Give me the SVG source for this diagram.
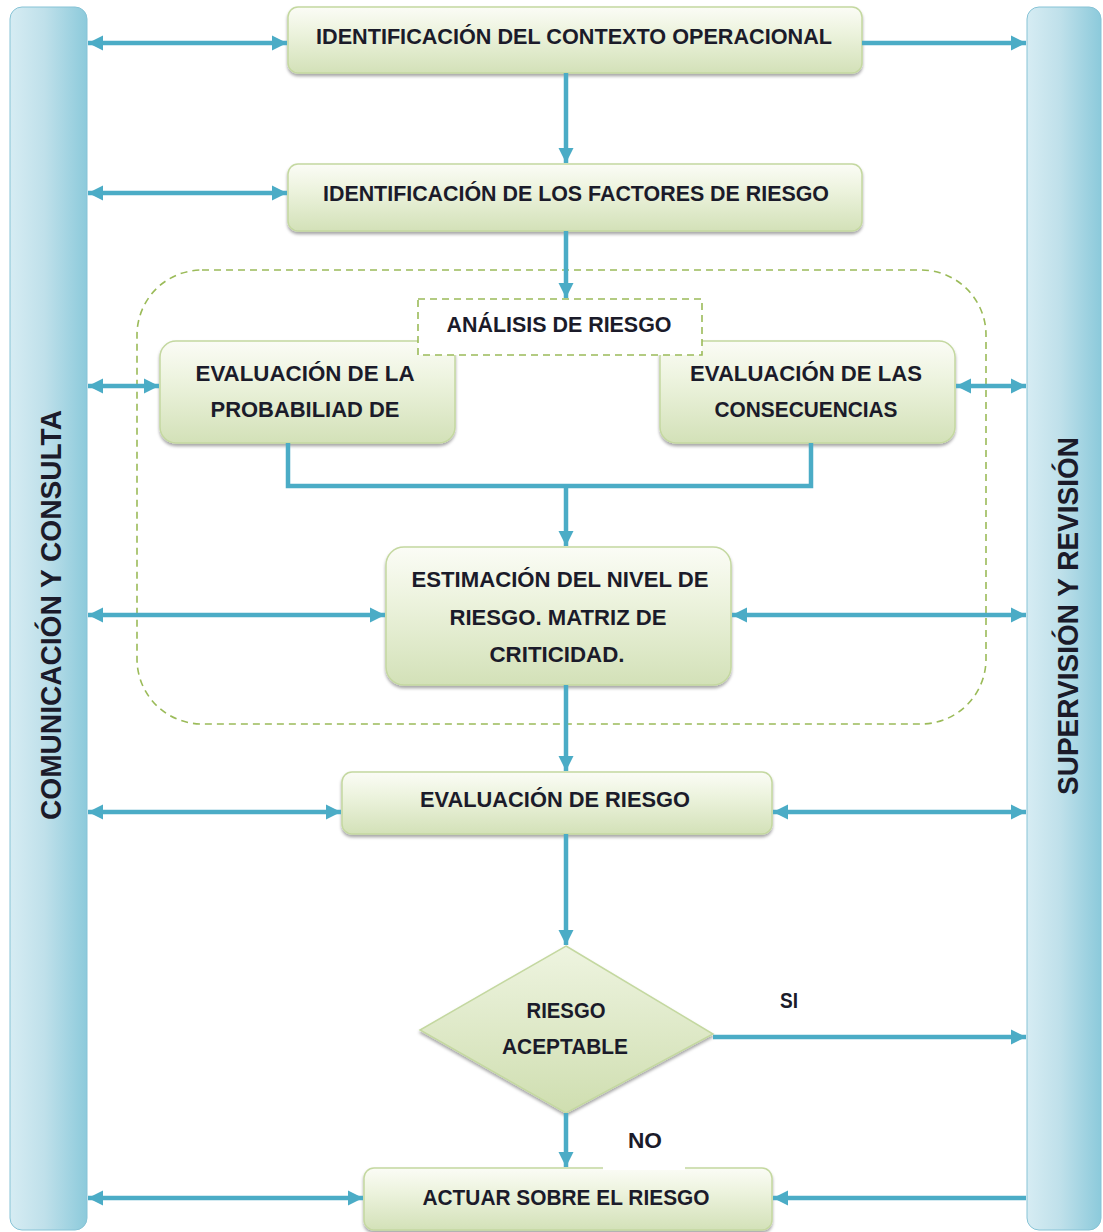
<svg xmlns="http://www.w3.org/2000/svg" width="1103" height="1232" viewBox="0 0 1103 1232">
<defs>
<linearGradient id="gBox" x1="0" y1="0" x2="0" y2="1">
<stop offset="0" stop-color="#fbfcf6"/>
<stop offset="0.35" stop-color="#eef4e0"/>
<stop offset="1" stop-color="#d3e1b8"/>
</linearGradient>
<linearGradient id="gDia" x1="0" y1="0" x2="0" y2="1">
<stop offset="0" stop-color="#eef4e0"/>
<stop offset="1" stop-color="#cfdeb0"/>
</linearGradient>
<linearGradient id="gBar" x1="0" y1="0" x2="1" y2="0">
<stop offset="0" stop-color="#d6ecf3"/>
<stop offset="0.45" stop-color="#bfe0ea"/>
<stop offset="1" stop-color="#8ccadb"/>
</linearGradient>
<filter id="sh" x="-5%" y="-10%" width="110%" height="130%">
<feDropShadow dx="0" dy="2.5" stdDeviation="1.8" flood-color="#000" flood-opacity="0.35"/>
</filter>
<marker id="ah" markerUnits="userSpaceOnUse" markerWidth="16" markerHeight="16" refX="15" refY="8" orient="auto-start-reverse">
<path d="M0,0.5 L15,8 L0,15.5 Z" fill="#4bacc6"/>
</marker>
<style>
.box{fill:url(#gBox);stroke:#c4d8a0;stroke-width:1.5;filter:url(#sh)}
.bar{fill:url(#gBar);stroke:#86c3d6;stroke-width:1}
.t{font-family:"Liberation Sans",Arial,sans-serif;font-weight:bold;font-size:22.5px;fill:#1b1b2a;text-anchor:middle}
.vt{font-family:"Liberation Sans",Arial,sans-serif;font-weight:bold;font-size:29px;fill:#1b1b2a;text-anchor:middle}
.c{fill:none;stroke:#4bacc6;stroke-width:4.5}
.a{marker-end:url(#ah)}
.b{marker-start:url(#ah);marker-end:url(#ah)}
.dash{fill:none;stroke:#9bbb59;stroke-width:1.6;stroke-dasharray:7 5}
</style>
</defs>
<rect width="1103" height="1232" fill="#ffffff"/>

<g id="comunicacion">
<rect class="bar" x="10" y="7" width="77" height="1223" rx="12"/>
<text class="vt" transform="translate(61,615) rotate(-90)" textLength="410" lengthAdjust="spacingAndGlyphs">COMUNICACIÓN Y CONSULTA</text>
</g>
<g id="supervision">
<rect class="bar" x="1027" y="7" width="74" height="1223" rx="12"/>
<text class="vt" transform="translate(1078,616) rotate(-90)" textLength="358" lengthAdjust="spacingAndGlyphs">SUPERVISIÓN Y REVISIÓN</text>
</g>

<g id="analisis-region">
<rect class="dash" x="137" y="270" width="849" height="454" rx="65"/>
</g>

<g id="contexto">
<rect class="box" x="288" y="7" width="574" height="66" rx="10"/>
<text class="t" x="574" y="44" textLength="516" lengthAdjust="spacingAndGlyphs">IDENTIFICACIÓN DEL CONTEXTO OPERACIONAL</text>
</g>
<g id="factores">
<rect class="box" x="288" y="164" width="574" height="67" rx="10"/>
<text class="t" x="576" y="201" textLength="506" lengthAdjust="spacingAndGlyphs">IDENTIFICACIÓN DE LOS FACTORES DE RIESGO</text>
</g>
<g id="probabilidad">
<rect class="box" x="160" y="341" width="295" height="102" rx="16"/>
<text class="t" x="305" y="381" textLength="219" lengthAdjust="spacingAndGlyphs">EVALUACIÓN DE LA</text>
<text class="t" x="305" y="417" textLength="189" lengthAdjust="spacingAndGlyphs">PROBABILIAD DE</text>
</g>
<g id="consecuencias">
<rect class="box" x="660" y="341" width="295" height="102" rx="16"/>
<text class="t" x="806" y="381" textLength="232" lengthAdjust="spacingAndGlyphs">EVALUACIÓN DE LAS</text>
<text class="t" x="806" y="417" textLength="183" lengthAdjust="spacingAndGlyphs">CONSECUENCIAS</text>
</g>
<g id="analisis-label">
<rect x="418" y="299" width="284" height="56" fill="#ffffff" stroke="#9bbb59" stroke-width="1.6" stroke-dasharray="7 5"/>
<text class="t" x="559" y="332" textLength="225" lengthAdjust="spacingAndGlyphs">ANÁLISIS DE RIESGO</text>
</g>
<g id="estimacion">
<rect class="box" x="386" y="547" width="345" height="138" rx="18"/>
<text class="t" x="560" y="587" textLength="297" lengthAdjust="spacingAndGlyphs">ESTIMACIÓN DEL NIVEL DE</text>
<text class="t" x="558" y="625" textLength="217" lengthAdjust="spacingAndGlyphs">RIESGO. MATRIZ DE</text>
<text class="t" x="557" y="662" textLength="135" lengthAdjust="spacingAndGlyphs">CRITICIDAD.</text>
</g>
<g id="evaluacion">
<rect class="box" x="342" y="772" width="430" height="62" rx="10"/>
<text class="t" x="555" y="807" textLength="270" lengthAdjust="spacingAndGlyphs">EVALUACIÓN DE RIESGO</text>
</g>
<g id="aceptable">
<polygon points="566,946 713,1034 566,1113 420,1030" fill="url(#gDia)" stroke="#c4d8a0" stroke-width="1.5" filter="url(#sh)"/>
<text class="t" x="566" y="1018" textLength="79" lengthAdjust="spacingAndGlyphs">RIESGO</text>
<text class="t" x="565" y="1054" textLength="126" lengthAdjust="spacingAndGlyphs">ACEPTABLE</text>
</g>
<g id="actuar">
<rect class="box" x="364" y="1168" width="408" height="62" rx="10"/>
<text class="t" x="566" y="1205" textLength="287" lengthAdjust="spacingAndGlyphs">ACTUAR SOBRE EL RIESGO</text>
</g>

<g id="connectors">
<path class="c b" d="M88,43 H287"/>
<path class="c a" d="M862,43 H1026"/>
<path class="c a" d="M566,73 V163"/>
<path class="c b" d="M88,193 H287"/>
<path class="c a" d="M566,231 V298"/>
<path class="c b" d="M88,386 H159"/>
<path class="c b" d="M956,386 H1026"/>
<path class="c" d="M288,443 V486 H811 V443"/>
<path class="c a" d="M566,486 V546"/>
<path class="c b" d="M88,615 H385"/>
<path class="c b" d="M732,615 H1026"/>
<path class="c a" d="M566,685 V771"/>
<path class="c b" d="M88,812 H341"/>
<path class="c b" d="M773,812 H1026"/>
<path class="c a" d="M566,834 V945"/>
<path class="c a" d="M713,1037 H1026"/>
<path class="c a" d="M566,1113 V1167"/>
<path class="c b" d="M88,1198 H363"/>
<path class="c a" d="M1026,1198 H773"/>
</g>

<g id="labels">
<text class="t" x="789" y="1008" textLength="18" lengthAdjust="spacingAndGlyphs">SI</text>
<rect x="603" y="1125" width="82" height="45" fill="#ffffff"/>
<text class="t" x="645" y="1148" textLength="34" lengthAdjust="spacingAndGlyphs">NO</text>
</g>
</svg>
